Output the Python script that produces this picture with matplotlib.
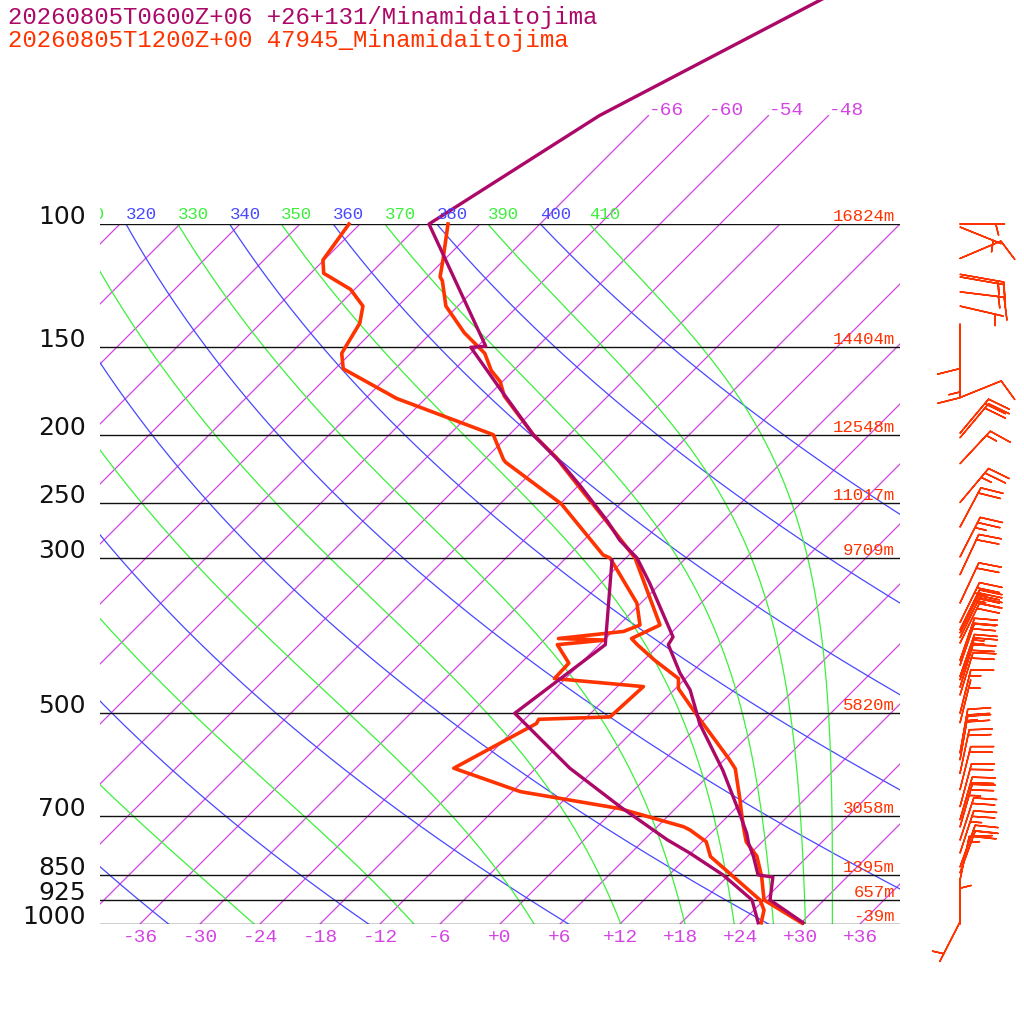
import numpy as np
import matplotlib
matplotlib.use('Agg')
import matplotlib.pyplot as plt
from matplotlib.transforms import Affine2D, Bbox, TransformedBbox

# ---- data ----
fc_label = '20260805T0600Z+06 +26+131/Minamidaitojima'
obs_label = '20260805T1200Z+00 47945_Minamidaitojima'

# forecast (purple) temperature / dewpoint, hPa and degC
fc_p = [996, 924, 857, 851, 801, 767, 742, 695, 603, 517, 505, 463, 438, 399, 389,
        326, 300, 283, 266, 237, 221, 200, 173, 150, 149.5, 100, 70, 30]
fc_t = [30.2, 24.6, 22.6, 20.9, 18.6, 16.8, 15.6, 12.9, 6.9, -0.1, -1.0, -4.4, -7.1, -11.1, -11.4,
        -19.1, -22.9, -26.4, -29.5, -35.7, -39.6, -45.6, -53.2, -60.6, -59.2, -77.1, -70.9, -47.4]
fc_td_p = [996, 924, 851, 792, 758, 680, 599, 500, 399, 302]
fc_td = [25.7, 22.8, 17.4, 11.9, 8.3, 0.3, -8.6, -19.6, -17.4, -25.2]

# observed sounding 47945 (red)
obs_p = [997, 924, 855, 800, 763, 726, 685, 665, 600, 580, 506, 461, 446, 420, 399, 391, 374,
         300, 266, 237, 221, 216, 200, 176, 168, 162, 153, 143, 131, 120.5, 119, 112.6, 100]
obs_t = [30.1, 24.0, 21.4, 18.9, 16.4, 14.6, 12.6, 11.6, 8.0, 6.3, -0.9, -5.7, -6.7, -10.9, -14.2, -15.4, -13.9,
         -23.1, -29.6, -35.9, -39.7, -40.9, -45.6, -52.4, -54.2, -56.2, -58.6, -62.7, -67.2, -70.1, -70.7, -72.1, -75.2]
obs_td_p = [996, 955, 924, 801, 763, 734, 726, 684, 647, 599, 517, 510, 506, 458, 446, 424, 399, 393,
            391, 382, 374, 348, 300, 297, 251, 219, 217, 200, 177.5, 175, 161, 153, 138.6, 131, 124,
            117.6, 112.6, 100]
obs_td = [26.0, 25.0, 23.6, 14.3, 12.4, 9.6, 8.6, 0.4, -11.2, -20.2, -16.4, -16.6, -9.7, -9.4, -19.1, -19.2, -22.2, -17.9,
          -22.7, -16.9, -15.9, -18.4, -25.6, -26.6, -35.9, -45.6, -46.1, -49.6, -62.9, -64.1, -71.2, -72.9, -74.1, -75.5, -78.4,
          -82.7, -84.1, -85.1]

# observed winds: pressure, direction (deg), speed (kt)
wind_p = [1000, 993, 865, 845, 829, 792, 759, 727, 710, 680, 643, 609, 583, 570, 516, 500, 471, 459,
          448, 443, 427, 420, 397, 390, 384, 380, 371, 348, 317, 299, 271, 250, 220, 202, 199, 177,
          153, 139, 131, 125, 119, 118, 112, 101, 100]
wind_dir = [0, 207, 12, 20, 20, 18, 18, 16, 16, 15, 14, 12, 10, 10, 14, 14, 17, 17,
            19, 19, 19, 19, 26, 26, 26, 26, 26, 25, 25, 27, 28, 40, 43, 40, 40, 68,
            180, 180, 103, 97, 100, 100, 67, 112, 90]
wind_spd = [5, 5, 15, 20, 20, 25, 20, 25, 20, 20, 20, 20, 20, 25, 5, 15, 20, 20,
            15, 15, 20, 20, 20, 20, 20, 25, 25, 20, 20, 25, 20, 25, 15, 20, 20, 10,
            15, 10, 5, 15, 15, 15, 10, 5, 5]

pres_levels = [100, 150, 200, 250, 300, 500, 700, 850, 925, 1000]
heights = ['16824m', '14404m', '12548m', '11017m', '9709m', '5820m', '3058m', '1395m', '657m', '-39m']
temp_ticks = list(range(-36, 37, 6))
isotherms = list(range(-108, 37, 6))
top_isotherms = [-66, -60, -54, -48]
dry_thetas = list(range(240, 401, 20))
moist_thetas = list(range(230, 411, 20))

PURPLE = '#AC0868'
RED = '#FF3300'
VIOLET = '#D444E4'
BLUE = '#4848FF'
GREEN = '#3CF03C'
MONO = 'Liberation Mono'

fig = plt.figure(figsize=(10.24, 10.24), dpi=100)
ax = fig.add_axes([100 / 1024, 100 / 1024, 800 / 1024, 700 / 1024])
ax.set_yscale('log')
ax.set_ylim(1000, 100)
ax.set_xlim(-40, 40)
ax.set_axis_off()

# 45 degree skew in pixel space, anchored at the 1000 hPa line
skew = ax.transData + Affine2D().translate(0, -100).skew_deg(45, 0).translate(0, 100)

plev = np.logspace(3, 2, 200)
kappa = 0.2857


def theta_e_sat(tk, p):
    tc = tk - 273.15
    es = 6.112 * np.exp(17.67 * tc / (tc + 243.5))
    r = 622.0 * es / (p - es)
    return tk * (1000.0 / p) ** (kappa * (1 - 0.00028 * r)) * np.exp((3.376 / tk - 0.00254) * r * (1 + 0.00081 * r))


def moist_temp(the, p):
    lo = np.full_like(p, 120.0)
    hi = np.full_like(p, 330.0)
    for _ in range(60):
        mid = 0.5 * (lo + hi)
        big = theta_e_sat(mid, p) > the
        hi = np.where(big, mid, hi)
        lo = np.where(big, lo, mid)
    return 0.5 * (lo + hi) - 273.15


label_clip = TransformedBbox(Bbox([[0, -1], [1, 2]]), ax.transAxes)


def adiabat_label(th, t100, color):
    # only labels that reach into the diagram are drawn; they are clipped at its left edge
    xpix = skew.transform((t100, 100))[0]
    if xpix < 60:
        return
    a = ax.annotate(str(th), xy=(t100, 100), xycoords=skew, xytext=(0, 5), textcoords='offset pixels',
                    ha='left', va='baseline', color=color, fontsize=12.5, family=MONO, annotation_clip=False)
    a.set_clip_box(label_clip)
    a.set_clip_on(True)


# isotherms
for t in isotherms:
    ax.plot([t, t], [1000, 100], color=VIOLET, lw=0.9, transform=skew)
for t in top_isotherms:
    ax.plot([t, t], [100, 70], color=VIOLET, lw=0.9, transform=skew, clip_on=False)
    ax.annotate(f'{t:+d}', xy=(t, 70), xycoords=skew, xytext=(0, 5), textcoords='offset pixels',
                ha='left', va='center', color=VIOLET, fontsize=14, family=MONO, annotation_clip=False)

# dry adiabats
for th in dry_thetas:
    tl = th * (plev / 1000.0) ** kappa - 273.15
    ax.plot(tl, plev, color=BLUE, lw=0.9, transform=skew)
    adiabat_label(th, tl[-1], BLUE)

# moist adiabats
for th in moist_thetas:
    tl = moist_temp(th, plev)
    ax.plot(tl, plev, color=GREEN, lw=0.9, transform=skew)
    adiabat_label(th, tl[-1], GREEN)

# pressure lines and labels
for p, h in zip(pres_levels, heights):
    ax.axhline(p, color='#111111', lw=1.0)
    ax.annotate(str(p), xy=(0, p), xycoords=('axes fraction', 'data'), xytext=(-14, 0),
                textcoords='offset pixels', ha='right', va='baseline', fontsize=18, color='#111111',
                annotation_clip=False)
    ax.annotate(h, xy=(1, p), xycoords=('axes fraction', 'data'), xytext=(-5, 3),
                textcoords='offset pixels', ha='right', va='baseline', fontsize=12.5, color=RED,
                family=MONO, annotation_clip=False)

# temperature labels along the bottom
for t in temp_ticks:
    ax.annotate(f'{t:+d}', xy=(t, 1000), xycoords=skew, xytext=(0, -5), textcoords='offset pixels',
                ha='center', va='top', color=VIOLET, fontsize=14, family=MONO, annotation_clip=False)

# soundings
ax.plot(obs_t, obs_p, color=RED, lw=2.6, transform=skew, clip_on=False)
ax.plot(obs_td, obs_td_p, color=RED, lw=2.6, transform=skew, clip_on=False)
ax.plot(fc_t, fc_p, color=PURPLE, lw=2.4, transform=skew, clip_on=False)
ax.plot(fc_td, fc_td_p, color=PURPLE, lw=2.4, transform=skew, clip_on=False)

# wind barbs to the right of the diagram
wd = np.radians(wind_dir)
ws = np.array(wind_spd, dtype=float)
u = -ws * np.sin(wd)
v = -ws * np.cos(wd)
ax.barbs(np.full(len(wind_p), 46.0), wind_p, u, v, length=8.0, color=RED, linewidth=1.1,
         sizes=dict(height=0.5, width=0.25, spacing=0.13), clip_on=False)

fig.text(8 / 1024, 1 - 6 / 1024, fc_label, color=PURPLE, fontsize=17.3, family=MONO, va='top')
fig.text(8 / 1024, 1 - 29 / 1024, obs_label, color=RED, fontsize=17.3, family=MONO, va='top')

fig.savefig('out.png', dpi=100, facecolor='white')
